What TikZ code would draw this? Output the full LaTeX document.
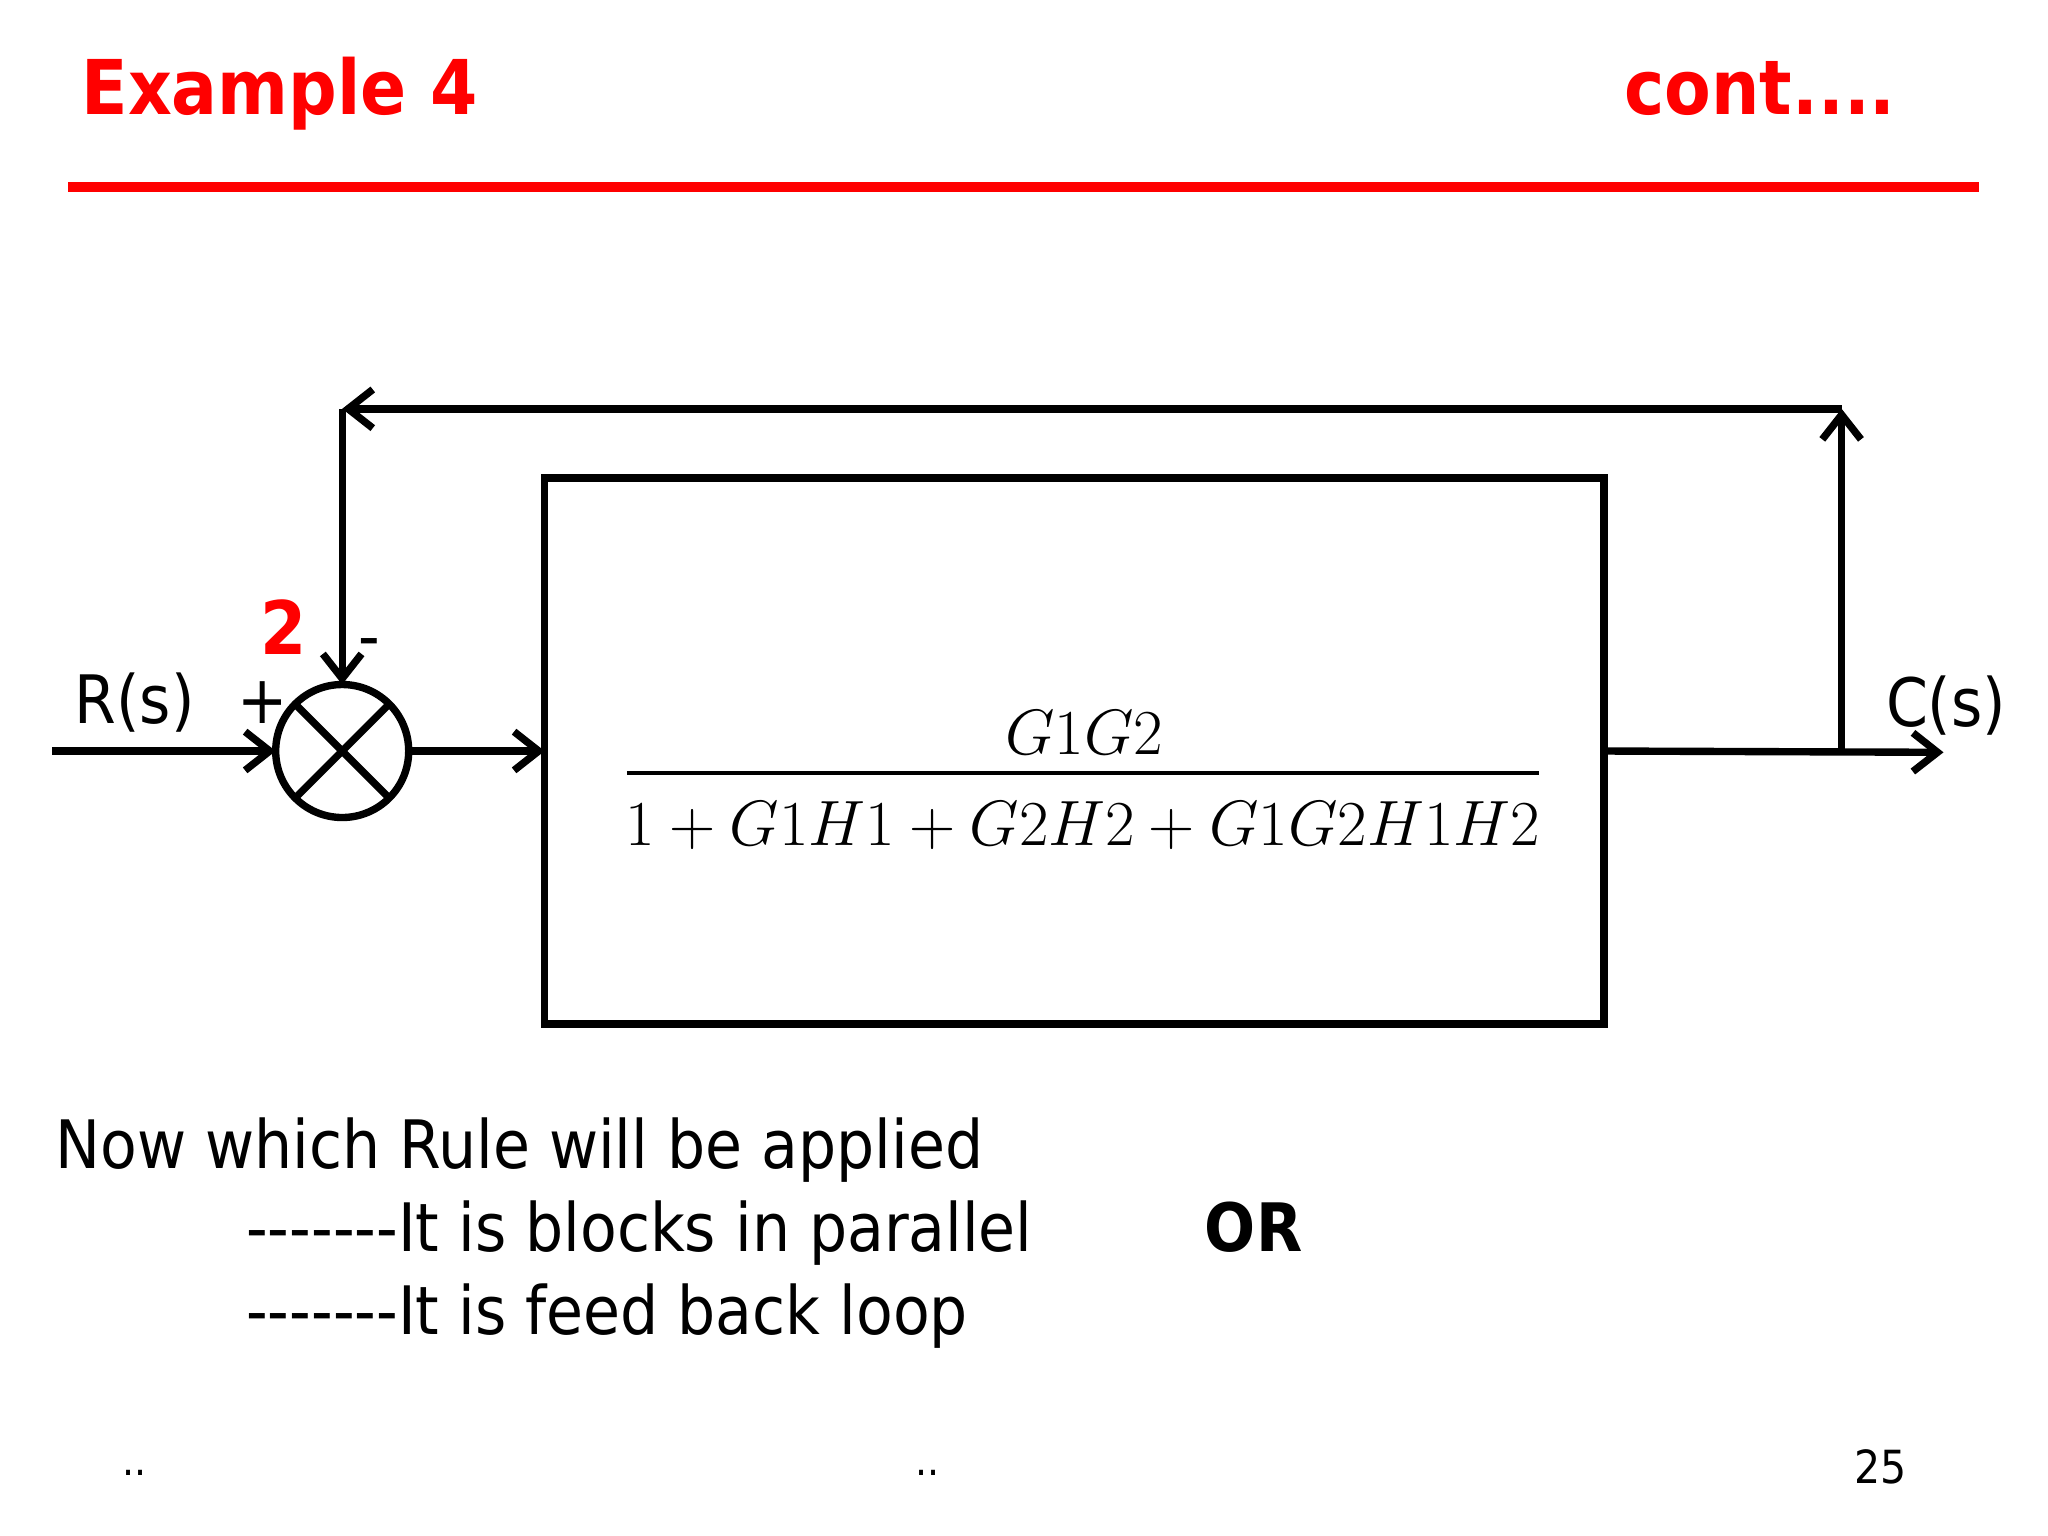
\documentclass[tikz,border=0pt]{standalone}
\usepackage{graphicx}
\usepackage{fontspec}
\setmainfont{DejaVu Sans Condensed}
\usetikzlibrary{arrows.meta}
\definecolor{tred}{RGB}{255,0,0}
\begin{document}
\begin{tikzpicture}[x=0.01306cm,y=-0.01306cm,
  ln/.style={line width=2.1pt},
  ar/.style={ln,-{Straight Barb[length=7pt,width=11pt,line width=2.1pt]}},
  lbl/.style={inner sep=0pt,font=\fontsize{19}{23}\selectfont},
  txt/.style={inner sep=0pt,anchor=base west,font=\fontsize{19}{23}\selectfont},
  mth/.style={inner sep=0pt,font=\fontsize{17.28}{21}\selectfont}]
\useasboundingbox (0,0) rectangle (1568,1176);
\node[inner sep=0pt,anchor=base west,text=tred,font=\bfseries\fontsize{21.5}{26}\selectfont] (t) at (62,88) {Example 4};
\node[inner sep=0pt,anchor=base east,text=tred,font=\bfseries\fontsize{21.5}{26}\selectfont] (c) at (1452,88) {cont....};
\fill[tred] (52,139) rectangle (1515,147);
\node[draw,circle,ln,inner sep=0pt,outer sep=0pt,minimum size=1.33cm] (s) at (262,575) {};
\draw[ln] (s.north east)--(s.south west) (s.north west)--(s.south east);
\node[draw,ln,anchor=north west,outer sep=0pt,minimum width=811*0.01306cm,minimum height=418*0.01306cm,inner sep=0pt] (b) at (417,366) {};
\coordinate (in) at (40,575);
\coordinate (out) at (1488,576);
\coordinate (tap) at (1410,576);
\coordinate (tr) at (1410,313);
\coordinate (tl) at (262,313);
\draw[ar] (in)--(s.west);
\draw[ar] (s.east)--(b.west);
\draw[ar] (b.east)--(out);
\draw[ar] (tap)--(tr);
\draw[ar] (tr)--(tl);
\draw[ar] (tl)--(s.north);
\node[mth] (n) at (830,561) {\scalebox{1.055}{$G1G2$}};
\draw[line width=1pt] (480,592)--(1178,592);
\node[mth] (d) at (829,632) {\scalebox{1.055}{$1+G1H1+G2H2+G1G2H1H2$}};
\node[lbl] (r) at (103,538) {R(s)};
\node[lbl] (p) at (201,538) {+};
\node[lbl] (m) at (283,497) {-};
\node[inner sep=0pt,text=tred,font=\bfseries\fontsize{21}{25}\selectfont] (two) at (217,480) {2};
\node[lbl] (cs) at (1490,540) {C(s)};
\node[txt] (l1) at (42,895) {Now which Rule will be applied};
\node[txt] (l2) at (188,958) {{-}{-}{-}{-}{-}{-}{-}It is blocks in parallel};
\node[txt,font=\bfseries\fontsize{19}{23}\selectfont] (or) at (922,958) {OR};
\node[txt] (l3) at (188,1022) {{-}{-}{-}{-}{-}{-}{-}It is feed back loop};
\node[inner sep=0pt,font=\fontsize{12}{14}\selectfont] (d1) at (103,1128) {..};
\node[inner sep=0pt,font=\fontsize{12}{14}\selectfont] (d2) at (710,1128) {..};
\node[inner sep=0pt,font=\fontsize{13}{16}\selectfont] (pg) at (1440,1123) {25};
\end{tikzpicture}
\end{document}
